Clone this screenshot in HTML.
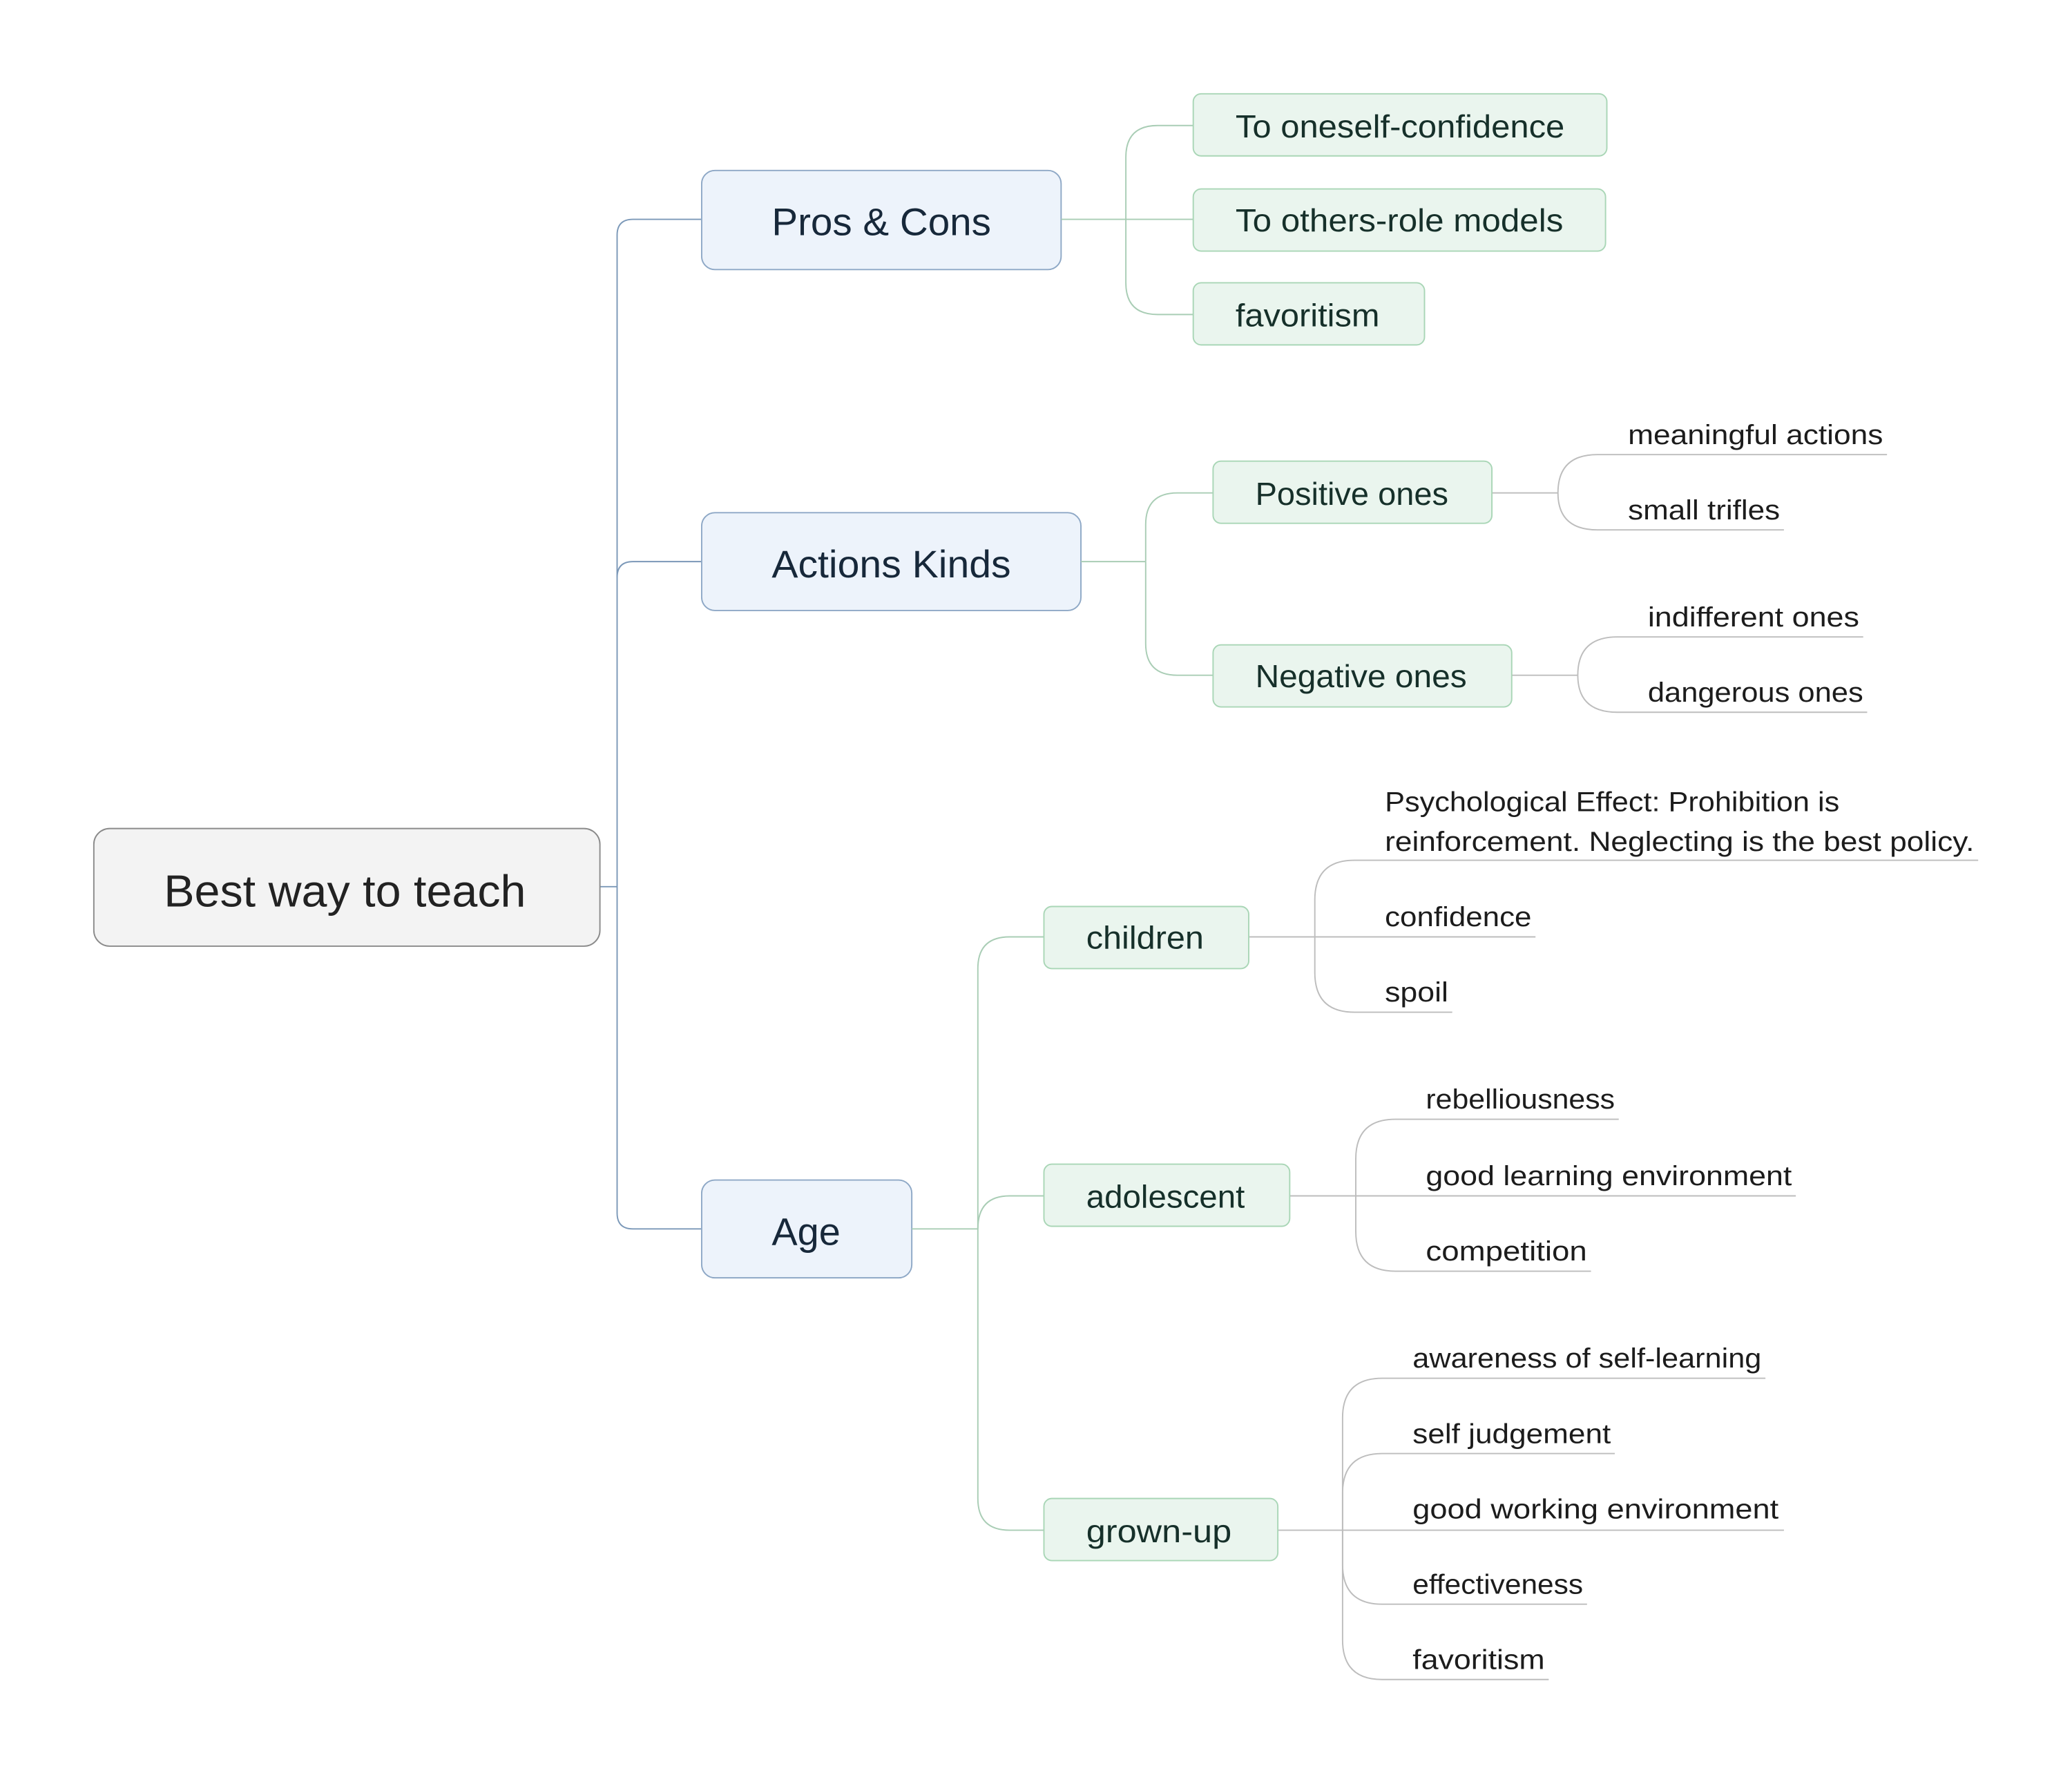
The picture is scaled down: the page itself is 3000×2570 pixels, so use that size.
<!DOCTYPE html>
<html><head><meta charset="utf-8"><style>html,body{margin:0;padding:0;background:#fff}svg{display:block}</style></head>
<body>
<svg width="3000" height="2570" viewBox="0 0 1568 1343" preserveAspectRatio="xMinYMin meet" xmlns="http://www.w3.org/2000/svg" font-family="'Liberation Sans', sans-serif" fill="#1a2a2a">
<rect width="1568" height="1343" fill="#fff"/>
<g fill="none" stroke="#7b98b8" stroke-width="1">
<path d="M454 671 H467"/>
<path d="M531 166 H479 Q467 166 467 178 V918 Q467 930 479 930 H531"/>
<path d="M467 437 Q467 425 479 425 H531"/>
</g>
<rect x="71" y="627" width="383" height="89" rx="12" fill="#f3f3f3" stroke="#8a8a8a"/>
<text x="124" y="686" font-size="34" textLength="274" lengthAdjust="spacingAndGlyphs" fill="#222">Best way to teach</text>
<g fill="#edf3fb" stroke="#8ea8c6">
<rect x="531" y="129" width="272" height="75" rx="10"/>
<rect x="531" y="388" width="287" height="74" rx="10"/>
<rect x="531" y="893" width="159" height="74" rx="10"/>
</g>
<g font-size="29" fill="#17283a">
<text x="584" y="178" textLength="166" lengthAdjust="spacingAndGlyphs">Pros &amp; Cons</text>
<text x="584" y="437" textLength="181" lengthAdjust="spacingAndGlyphs">Actions Kinds</text>
<text x="584" y="942" textLength="52" lengthAdjust="spacingAndGlyphs">Age</text>
</g>
<g fill="none" stroke="#a9cdb5" stroke-width="1">
<path d="M803 166 H903"/>
<path d="M852 166 V119 Q852 95 876 95 H903"/>
<path d="M852 166 V214 Q852 238 876 238 H903"/>
<path d="M818 425 H867"/>
<path d="M867 425 V397 Q867 373 891 373 H918"/>
<path d="M867 425 V487 Q867 511 891 511 H918"/>
<path d="M690 930 H740"/>
<path d="M740 930 V733 Q740 709 764 709 H790"/>
<path d="M740 930 Q740 905 764 905 H790"/>
<path d="M740 930 V1134 Q740 1158 764 1158 H790"/>
</g>
<g fill="none" stroke="#bdbdbd" stroke-width="1">
<path d="M1129 373 H1179"/>
<path d="M1179 373 Q1179 344 1209 344 H1428"/>
<path d="M1179 373 Q1179 401 1209 401 H1350"/>
<path d="M1144 511 H1194"/>
<path d="M1194 511 Q1194 482 1224 482 H1410"/>
<path d="M1194 511 Q1194 539 1224 539 H1413"/>
<path d="M945 709 H1162"/>
<path d="M995 709 V681 Q995 651 1025 651 H1497"/>
<path d="M995 709 V736 Q995 766 1025 766 H1099"/>
<path d="M976 905 H1359"/>
<path d="M1026 905 V877 Q1026 847 1056 847 H1225"/>
<path d="M1026 905 V932 Q1026 962 1056 962 H1204"/>
<path d="M967 1158 H1350"/>
<path d="M1016 1158 V1073 Q1016 1043 1046 1043 H1336"/>
<path d="M1016 1158 V1130 Q1016 1100 1046 1100 H1222"/>
<path d="M1016 1158 V1184 Q1016 1214 1046 1214 H1201"/>
<path d="M1016 1158 V1241 Q1016 1271 1046 1271 H1172"/>
</g>
<g fill="#eaf5ee" stroke="#a9d6b6">
<rect x="903" y="71" width="313" height="47" rx="6"/>
<rect x="903" y="143" width="312" height="47" rx="6"/>
<rect x="903" y="214" width="175" height="47" rx="6"/>
<rect x="918" y="349" width="211" height="47" rx="6"/>
<rect x="918" y="488" width="226" height="47" rx="6"/>
<rect x="790" y="686" width="155" height="47" rx="6"/>
<rect x="790" y="881" width="186" height="47" rx="6"/>
<rect x="790" y="1134" width="177" height="47" rx="6"/>
</g>
<g font-size="24" fill="#16302a">
<text x="935" y="104" textLength="249" lengthAdjust="spacingAndGlyphs">To oneself-confidence</text>
<text x="935" y="175" textLength="248" lengthAdjust="spacingAndGlyphs">To others-role models</text>
<text x="935" y="247" textLength="109" lengthAdjust="spacingAndGlyphs">favoritism</text>
<text x="950" y="382" textLength="146" lengthAdjust="spacingAndGlyphs">Positive ones</text>
<text x="950" y="520" textLength="160" lengthAdjust="spacingAndGlyphs">Negative ones</text>
<text x="822" y="718" textLength="89" lengthAdjust="spacingAndGlyphs">children</text>
<text x="822" y="914" textLength="120" lengthAdjust="spacingAndGlyphs">adolescent</text>
<text x="822" y="1167" textLength="110" lengthAdjust="spacingAndGlyphs">grown-up</text>
</g>
<g font-size="21" fill="#1c1c1c">
<text x="1232" y="336" textLength="193" lengthAdjust="spacingAndGlyphs">meaningful actions</text>
<text x="1232" y="393" textLength="115" lengthAdjust="spacingAndGlyphs">small trifles</text>
<text x="1247" y="474" textLength="160" lengthAdjust="spacingAndGlyphs">indifferent ones</text>
<text x="1247" y="531" textLength="163" lengthAdjust="spacingAndGlyphs">dangerous ones</text>
<text x="1048" y="614" textLength="344" lengthAdjust="spacingAndGlyphs">Psychological Effect: Prohibition is</text>
<text x="1048" y="644" textLength="446" lengthAdjust="spacingAndGlyphs">reinforcement. Neglecting is the best policy.</text>
<text x="1048" y="701" textLength="111" lengthAdjust="spacingAndGlyphs">confidence</text>
<text x="1048" y="758" textLength="48" lengthAdjust="spacingAndGlyphs">spoil</text>
<text x="1079" y="839" textLength="143" lengthAdjust="spacingAndGlyphs">rebelliousness</text>
<text x="1079" y="897" textLength="277" lengthAdjust="spacingAndGlyphs">good learning environment</text>
<text x="1079" y="954" textLength="122" lengthAdjust="spacingAndGlyphs">competition</text>
<text x="1069" y="1035" textLength="264" lengthAdjust="spacingAndGlyphs">awareness of self-learning</text>
<text x="1069" y="1092" textLength="150" lengthAdjust="spacingAndGlyphs">self judgement</text>
<text x="1069" y="1149" textLength="277" lengthAdjust="spacingAndGlyphs">good working environment</text>
<text x="1069" y="1206" textLength="129" lengthAdjust="spacingAndGlyphs">effectiveness</text>
<text x="1069" y="1263" textLength="100" lengthAdjust="spacingAndGlyphs">favoritism</text>
</g>
</svg>
</body></html>
